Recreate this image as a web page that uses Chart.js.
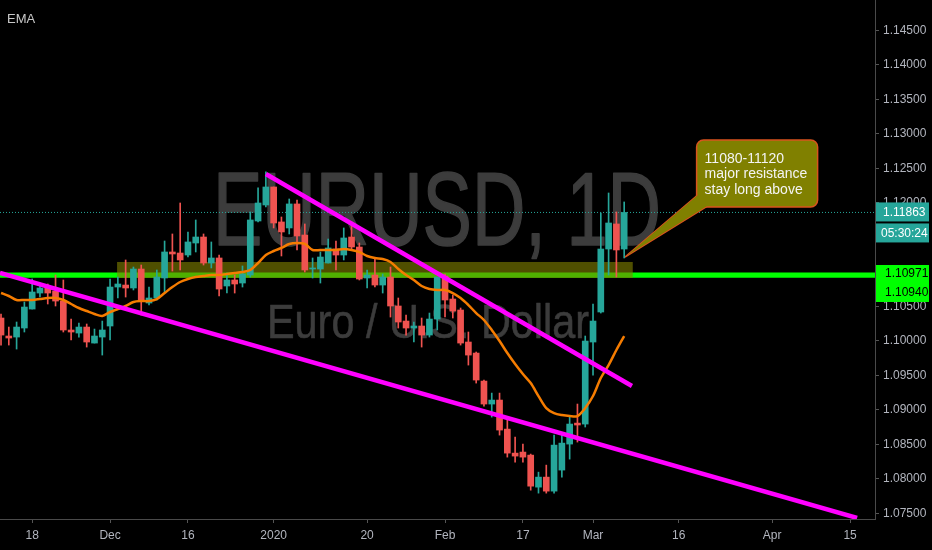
<!DOCTYPE html>
<html>
<head>
<meta charset="utf-8">
<script src="https://cdn.jsdelivr.net/npm/chart.js@4.4.1/dist/chart.umd.min.js"></script>
<style>
  html, body { margin: 0; padding: 0; background: #000; }
  #wrap { position: relative; width: 932px; height: 550px; }
</style>
</head>
<body>
<div id="wrap"><canvas id="chart"></canvas></div>
<script>
// EURUSD daily candles, one per trading day, x = bar index
const opens = [
  1.10333, 1.10072, 1.10057, 1.10188, 1.10463, 1.10695, 1.10768, 1.10724, 1.10579, 1.10159,
  1.10115, 1.10202, 1.09970, 1.10057, 1.10217, 1.10782, 1.10811, 1.10768, 1.11043, 1.10550,
  1.10623, 1.10913, 1.11290, 1.11275, 1.11246, 1.11420, 1.11507, 1.11130, 1.11203, 1.10797,
  1.10884, 1.10840, 1.10956, 1.11739, 1.11971, 1.12232, 1.11725, 1.11638, 1.11986, 1.11536,
  1.11043, 1.11043, 1.11130, 1.11333, 1.11246, 1.11507, 1.11362, 1.10913, 1.10956, 1.10811,
  1.10927, 1.10507, 1.10289, 1.10188, 1.10217, 1.10086, 1.10318, 1.10942, 1.10608, 1.10449,
  1.09985, 1.09825, 1.09419, 1.09086, 1.09144, 1.08723, 1.08375, 1.08390, 1.08346, 1.07882,
  1.08027, 1.07824, 1.08129, 1.08506, 1.08810, 1.08796, 1.09985, 1.10420, 1.11333, 1.11696,
  1.11333
];
const highs = [
  1.10391, 1.10202, 1.10275, 1.10565, 1.10898, 1.10840, 1.10826, 1.10956, 1.10884, 1.10318,
  1.10260, 1.10246, 1.10173, 1.10289, 1.10898, 1.10927, 1.11174, 1.11072, 1.11101, 1.10782,
  1.11029, 1.11449, 1.11551, 1.12000, 1.11580, 1.11754, 1.11551, 1.11435, 1.11246, 1.10985,
  1.10956, 1.11087, 1.11870, 1.12218, 1.12450, 1.12232, 1.11797, 1.12058, 1.12044, 1.11696,
  1.11203, 1.11290, 1.11478, 1.11449, 1.11638, 1.11725, 1.11420, 1.11029, 1.11203, 1.10971,
  1.11072, 1.10623, 1.10376, 1.10275, 1.10333, 1.10405, 1.10927, 1.10971, 1.10666, 1.10478,
  1.10130, 1.09840, 1.09434, 1.09245, 1.09245, 1.08854, 1.08607, 1.08506, 1.08361, 1.08099,
  1.08201, 1.08636, 1.08636, 1.08897, 1.09086, 1.10072, 1.10536, 1.11855, 1.12145, 1.11870,
  1.12015
];
const lows = [
  1.09941, 1.09941, 1.09883, 1.10130, 1.10463, 1.10637, 1.10536, 1.10507, 1.10130, 1.10014,
  1.10057, 1.09912, 1.09970, 1.09796, 1.10014, 1.10623, 1.10637, 1.10739, 1.10376, 1.10521,
  1.10594, 1.10710, 1.11014, 1.11029, 1.11217, 1.11290, 1.11101, 1.11058, 1.10652, 1.10695,
  1.10695, 1.10782, 1.10927, 1.11725, 1.11942, 1.11638, 1.11232, 1.11551, 1.11319, 1.11000,
  1.10913, 1.10840, 1.11130, 1.11029, 1.11174, 1.11319, 1.10884, 1.10768, 1.10782, 1.10695,
  1.10347, 1.10188, 1.10086, 1.09985, 1.09912, 1.10057, 1.10159, 1.10347, 1.10333, 1.09941,
  1.09651, 1.09390, 1.09057, 1.08897, 1.08636, 1.08317, 1.08245, 1.08245, 1.07838, 1.07795,
  1.07795, 1.07795, 1.08027, 1.08288, 1.08535, 1.08753, 1.09506, 1.10405, 1.10956, 1.10927,
  1.11203
];
const closes = [
  1.10086, 1.10043, 1.10202, 1.10492, 1.10710, 1.10768, 1.10695, 1.10579, 1.10159, 1.10130,
  1.10202, 1.09985, 1.10072, 1.10159, 1.10782, 1.10826, 1.10768, 1.11043, 1.10594, 1.10623,
  1.10927, 1.11290, 1.11261, 1.11174, 1.11435, 1.11507, 1.11130, 1.11203, 1.10753, 1.10884,
  1.10826, 1.10971, 1.11754, 1.12000, 1.12232, 1.11710, 1.11580, 1.11986, 1.11522, 1.11029,
  1.11058, 1.11217, 1.11348, 1.11246, 1.11493, 1.11362, 1.10898, 1.10956, 1.10811, 1.10927,
  1.10507, 1.10275, 1.10188, 1.10217, 1.10086, 1.10318, 1.10927, 1.10594, 1.10434, 1.09970,
  1.09796, 1.09434, 1.09086, 1.09144, 1.08709, 1.08375, 1.08332, 1.08317, 1.07896, 1.08027,
  1.07824, 1.08491, 1.08520, 1.08796, 1.08782, 1.09999, 1.10289, 1.11333, 1.11710, 1.11319,
  1.11863
];
// EMA
const ema = [
  1.10695, 1.10652, 1.10594, 1.10594, 1.10594, 1.10608, 1.10623, 1.10623, 1.10594, 1.10536,
  1.10478, 1.10434, 1.10391, 1.10362, 1.10420, 1.10463, 1.10507, 1.10565, 1.10579, 1.10579,
  1.10608, 1.10695, 1.10782, 1.10855, 1.10898, 1.10927, 1.10942, 1.10956, 1.10956, 1.10971,
  1.10985, 1.11000, 1.11029, 1.11130, 1.11246, 1.11304, 1.11348, 1.11406, 1.11420, 1.11406,
  1.11319, 1.11319, 1.11319, 1.11319, 1.11333, 1.11319, 1.11290, 1.11232, 1.11203, 1.11188,
  1.11145, 1.11043, 1.10956, 1.10884, 1.10797, 1.10753, 1.10739, 1.10739, 1.10695, 1.10623,
  1.10521, 1.10405, 1.10304, 1.10159, 1.09999, 1.09825, 1.09666, 1.09521, 1.09390, 1.09202,
  1.09028, 1.08955, 1.08926, 1.08912, 1.08912, 1.09028, 1.09202, 1.09463, 1.09651, 1.09869,
  1.10072
];

const xTickIdx  = [4, 14, 24, 35, 47, 57, 67, 76, 87, 99, 109];
const xTickText = ['18', 'Dec', '16', '2020', '20', 'Feb', '17', 'Mar', '16', 'Apr', '15'];

// drawings: [bar index, price]
const supportLine = [[-0.13, 1.10985], [109.9, 1.07435]];
const resistLine  = [[34.0, 1.12421], [81.0, 1.09347]];
const levels      = [1.10971, 1.10940];
const zoneX       = [14.9, 81.1];
const zoneY       = [1.10913, 1.11145];
const lastPrice   = 1.11863;
const timerText   = '05:30:24';
const calloutTip  = [80.1, 1.11217];
const calloutBox  = [89.3, 1.12913];
const calloutText = ['11080-11120', 'major resistance', 'stay long above'];

const X_MIN = -0.13, X_MAX = 112.2;
const UP = '#26a69a', DOWN = '#ef5350';
const AXIS_TEXT = '#b2b5be';
const FONT = '"Liberation Sans", Arial, sans-serif';

const idx = opens.map((_, i) => i);
const colors = idx.map(i => closes[i] >= opens[i] ? UP : DOWN);
const pts = arr => arr.map(p => ({ x: p[0], y: p[1] }));
const flat = v => [{ x: X_MIN, y: v }, { x: X_MAX, y: v }];

// squeeze text to a given width, thickened a little with a stroke
function fitText(ctx, text, font, x, y, w, stroke) {
  ctx.font = font;
  const k = w / ctx.measureText(text).width;
  ctx.save();
  ctx.translate(x, y);
  ctx.scale(k, 1);
  ctx.fillText(text, 0, 0);
  if (stroke) {
    ctx.lineWidth = stroke;
    ctx.lineJoin = 'round';
    ctx.strokeText(text, 0, 0);
  }
  ctx.restore();
}

const watermark = {
  id: 'watermark',
  beforeDatasetsDraw(chart) {
    const ctx = chart.ctx;
    ctx.save();
    ctx.fillStyle = '#3c3c3c';
    ctx.strokeStyle = '#3c3c3c';
    ctx.textBaseline = 'alphabetic';
    fitText(ctx, 'EURUSD, 1D', '103px ' + FONT, 213, 245, 448, 1.6);
    fitText(ctx, 'Euro / U.S. Dollar', '49px ' + FONT, 267, 338, 322, 0.6);
    ctx.restore();
  }
};

// olive zone goes under the candles but over the green levels
const zone = {
  id: 'zone',
  beforeDatasetDraw(chart, args) {
    if (args.index !== 3) return;
    const { ctx, scales: { x, y } } = chart;
    const x0 = x.getPixelForValue(zoneX[0]), x1 = x.getPixelForValue(zoneX[1]);
    const y0 = y.getPixelForValue(zoneY[1]), y1 = y.getPixelForValue(zoneY[0]);
    ctx.save();
    ctx.fillStyle = 'rgba(128,128,0,0.62)';
    ctx.fillRect(x0, y0, x1 - x0, y1 - y0);
    ctx.restore();
  }
};

const overlay = {
  id: 'overlay',
  afterDraw(chart) {
    const { ctx, chartArea: a, scales: { x, y } } = chart;
    ctx.save();

    // callout
    const tx = x.getPixelForValue(calloutTip[0]), ty = y.getPixelForValue(calloutTip[1]);
    const bx = x.getPixelForValue(calloutBox[0]), by = y.getPixelForValue(calloutBox[1]);
    const bw = 121, bh = 67, r = 7;
    ctx.fillStyle = '#808000';
    ctx.strokeStyle = '#d9531e';
    ctx.lineWidth = 1.5;
    ctx.beginPath();
    ctx.roundRect(bx, by, bw, bh, r);
    ctx.fill();
    ctx.stroke();
    ctx.beginPath();
    ctx.moveTo(bx + 1, by + bh - 12);
    ctx.lineTo(tx, ty);
    ctx.lineTo(bx + 10, by + bh - 0.5);
    ctx.fill();
    ctx.stroke();
    ctx.beginPath();
    ctx.moveTo(bx + 2.5, by + bh - 13);
    ctx.lineTo(tx + 2, ty - 1.5);
    ctx.lineTo(bx + 12, by + bh - 2);
    ctx.lineTo(bx + 8, by + bh - 8);
    ctx.closePath();
    ctx.fill();

    ctx.fillStyle = '#f4f4f4';
    ctx.font = '14px ' + FONT;
    ctx.textBaseline = 'alphabetic';
    ctx.textAlign = 'left';
    calloutText.forEach((t, k) => ctx.fillText(t, bx + 8, by + 23 + k * 15.5));

    // legend text
    ctx.fillStyle = '#c8c8c8';
    ctx.font = '13px ' + FONT;
    ctx.fillText('EMA', 7, 23);

    // price tags on the axis
    const tagX = a.right + 1, tagW = 53;
    ctx.font = '12px ' + FONT;
    ctx.textBaseline = 'middle';
    const py = y.getPixelForValue(lastPrice);
    ctx.fillStyle = UP;
    ctx.fillRect(tagX, py - 10, tagW, 19);
    ctx.fillRect(tagX, py + 11, tagW, 19);
    ctx.fillStyle = '#ffffff';
    ctx.fillText(lastPrice.toFixed(5), tagX + 7, py);
    ctx.fillText(timerText, tagX + 5, py + 21);

    const ly = y.getPixelForValue(levels[0]);
    ctx.fillStyle = '#00ff00';
    ctx.fillRect(tagX, ly - 9, tagW, 37);
    ctx.fillStyle = '#000000';
    ctx.fillText(levels[0].toFixed(5), tagX + 9, ly);
    ctx.fillText(levels[1].toFixed(5), tagX + 9, ly + 19);
    ctx.restore();
  }
};

new Chart(document.getElementById('chart'), {
  type: 'bar',
  data: {
    datasets: [
      {
        type: 'line', data: flat(lastPrice), borderColor: UP, borderWidth: 1,
        borderDash: [1, 2], pointRadius: 0, order: 9
      },
      {
        type: 'line', data: flat(levels[0]), borderColor: '#00ff00', borderWidth: 3,
        pointRadius: 0, order: 8
      },
      {
        type: 'line', data: flat(levels[1]), borderColor: '#00ff00', borderWidth: 3,
        pointRadius: 0, order: 8
      },
      {
        data: idx.map(i => ({ x: i, y: [lows[i], highs[i]] })),
        backgroundColor: colors, barThickness: 1, grouped: false, order: 6
      },
      {
        data: idx.map(i => ({ x: i, y: [opens[i], closes[i]] })),
        backgroundColor: colors, barThickness: 6, minBarLength: 1, grouped: false, order: 5
      },
      {
        type: 'line', data: idx.map(i => ({ x: i, y: ema[i] })), borderColor: '#f57c00',
        borderWidth: 2.5, pointRadius: 0, tension: 0.3, order: 4
      },
      {
        type: 'line', data: pts(supportLine), borderColor: '#ff00ff', borderWidth: 4.5,
        pointRadius: 0, order: 3
      },
      {
        type: 'line', data: pts(resistLine), borderColor: '#ff00ff', borderWidth: 4.5,
        pointRadius: 0, order: 3
      }
    ]
  },
  options: {
    responsive: true,
    maintainAspectRatio: false,
    animation: false,
    layout: { padding: 0 },
    plugins: { legend: { display: false }, tooltip: { enabled: false } },
    scales: {
      x: {
        type: 'linear', min: X_MIN, max: X_MAX, offset: false,
        grid: { offset: false, drawOnChartArea: false, drawTicks: true, tickLength: 4, color: '#555' },
        border: { color: '#4a4a4a' },
        ticks: {
          color: AXIS_TEXT, font: { family: FONT, size: 12 }, padding: 5,
          autoSkip: false, maxRotation: 0,
          callback: v => xTickText[xTickIdx.indexOf(v)]
        },
        afterBuildTicks: s => { s.ticks = xTickIdx.map(v => ({ value: v })); },
        afterFit: s => { s.height = 31; s.paddingLeft = 0; s.paddingRight = 0; }
      },
      y: {
        type: 'linear', position: 'right', min: 1.0742, max: 1.14942,
        grid: { drawOnChartArea: false, drawTicks: true, tickLength: 4, color: '#555' },
        border: { color: '#4a4a4a' },
        ticks: {
          stepSize: 0.005, includeBounds: false, color: AXIS_TEXT,
          font: { family: FONT, size: 12 }, padding: 4,
          callback: v => v.toFixed(5)
        },
        afterFit: s => { s.width = 57; s.paddingTop = 0; s.paddingBottom = 0; }
      }
    }
  },
  plugins: [watermark, zone, overlay]
});
</script>
</body>
</html>
